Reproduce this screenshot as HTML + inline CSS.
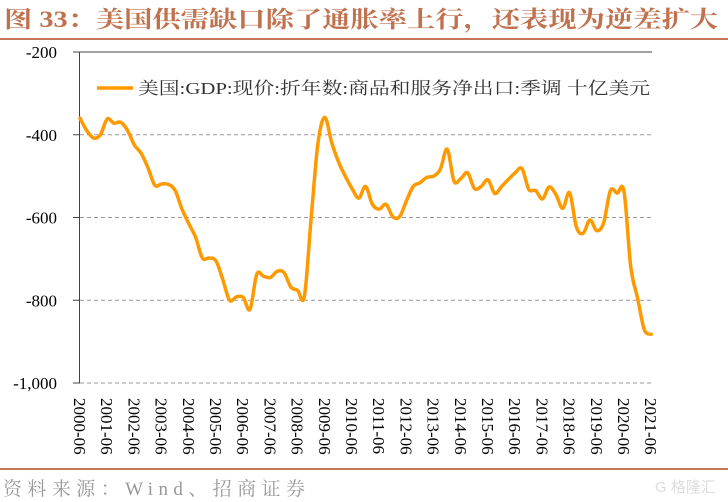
<!DOCTYPE html>
<html><head><meta charset="utf-8">
<style>
html,body{margin:0;padding:0;background:#fff;}
body{width:728px;height:502px;overflow:hidden;position:relative;}
svg{position:absolute;left:0;top:0;}
</style></head>
<body>
<svg id="chart" width="728" height="502" viewBox="0 0 728 502" xmlns="http://www.w3.org/2000/svg">
  <text x="4" y="27" font-family="'Liberation Serif','Noto Serif CJK SC',serif" font-size="23" font-weight="bold" fill="#C0714E" textLength="714" lengthAdjust="spacingAndGlyphs">图 33：美国供需缺口除了通胀率上行，还表现为逆差扩大</text>
  <rect x="0" y="38" width="728" height="2" fill="#C8765A"/>
  <g id="grid"></g>
  <g id="yaxis"></g>
  <g id="xaxis"></g>
  <path id="series" fill="none" stroke="#FF9900" stroke-width="3.5" stroke-linejoin="round" stroke-linecap="round"/>
  <g>
    <line x1="97" y1="88" x2="133" y2="88" stroke="#FF9900" stroke-width="3.5"/>
    <text x="138" y="94" font-family="'Liberation Serif','Noto Serif CJK SC',serif" font-size="17" fill="#333" textLength="512" lengthAdjust="spacingAndGlyphs">美国:GDP:现价:折年数:商品和服务净出口:季调 十亿美元</text>
  </g>
  <rect x="0" y="468" width="728" height="2" fill="#C8765A"/>
  <text x="3" y="495" font-family="'Liberation Serif','Noto Serif CJK SC',serif" font-size="19" fill="#999" textLength="302" lengthAdjust="spacing">资料来源：Wind、招商证券</text>
  <text x="655" y="492" font-family="'Liberation Sans','Noto Sans CJK SC',sans-serif" font-size="15" fill="#ddd">G 格隆汇</text>
</svg>
<script>
const yTicks = [-200, -400, -600, -800, -1000];
const yTickLabels = ["-200", "-400", "-600", "-800", "-1,000"];
const xLabels = ["2000-06","2001-06","2002-06","2003-06","2004-06","2005-06","2006-06","2007-06","2008-06","2009-06","2010-06","2011-06","2012-06","2013-06","2014-06","2015-06","2016-06","2017-06","2018-06","2019-06","2020-06","2021-06"];
const netExports = [-360,-390,-408,-400,-362,-372,-370,-390,-425,-445,-480,-522,-519,-520,-535,-580,-615,-648,-698,-698,-705,-750,-800,-792,-793,-822,-737,-742,-745,-730,-733,-768,-776,-790,-600,-420,-358,-418,-465,-500,-530,-553,-525,-568,-580,-568,-598,-598,-560,-525,-516,-503,-500,-483,-435,-512,-506,-492,-530,-525,-509,-542,-525,-508,-492,-482,-532,-535,-555,-526,-545,-578,-540,-623,-638,-606,-632,-613,-535,-541,-537,-720,-795,-872,-882];

const NS = "http://www.w3.org/2000/svg";
const X0 = 80, X1 = 651.2, Y0 = 52, Y1 = 383;
function yScale(v){ return Y0 + (v - (-200)) / (-1000 - (-200)) * (Y1 - Y0); }
function xScale(i){ return X0 + i * (X1 - X0) / (netExports.length - 1); }
function mk(tag, attrs, parent){ const e = document.createElementNS(NS, tag); for (const k in attrs) e.setAttribute(k, attrs[k]); parent.appendChild(e); return e; }

const grid = document.getElementById('grid');
const yaxis = document.getElementById('yaxis');
const xaxis = document.getElementById('xaxis');

yTicks.forEach((v, k) => {
  const y = yScale(v);
  if (k === 0) {
    const l = mk('line', {x1: 73, x2: 652, y1: y, y2: y, stroke: '#444', 'stroke-width': 1}, grid);
    
    
  } else {
    const l = mk('line', {x1: 80, x2: 652, y1: y, y2: y, stroke: '#999', 'stroke-width': 1, 'stroke-dasharray': '4,3'}, grid);
    
    
    const t = mk('line', {x1: 73, x2: 80, y1: y, y2: y, stroke: '#444', 'stroke-width': 1}, yaxis);
    
    
  }
  const tx = mk('text', {x: 57, y: y + 6, 'text-anchor': 'end', 'font-family': "'Liberation Serif',serif", 'font-size': 17, fill: '#000'}, yaxis);
  tx.textContent = yTickLabels[k];
  
  
});
const ax = mk('line', {x1: 79.5, x2: 79.5, y1: Y0, y2: Y1, stroke: '#444', 'stroke-width': 1}, yaxis);



xLabels.forEach((lab, k) => {
  const x = xScale(k * 4);
  const t = mk('text', {x: 0, y: 0, transform: `translate(${x - 6},398) rotate(90)`, 'font-family': "'Liberation Serif',serif", 'font-size': 17, fill: '#000'}, xaxis);
  t.textContent = lab;
  
  
});

const pts = netExports.map((v, i) => [xScale(i), yScale(v)]);
let d = `M${pts[0][0].toFixed(1)},${pts[0][1].toFixed(1)}`;
for (let i = 0; i < pts.length - 1; i++) {
  const p0 = pts[Math.max(0, i - 1)], p1 = pts[i], p2 = pts[i + 1], p3 = pts[Math.min(pts.length - 1, i + 2)];
  const c1x = p1[0] + (p2[0] - p0[0]) / 6, c1y = p1[1] + (p2[1] - p0[1]) / 6;
  const c2x = p2[0] - (p3[0] - p1[0]) / 6, c2y = p2[1] - (p3[1] - p1[1]) / 6;
  d += ` C${c1x.toFixed(1)},${c1y.toFixed(1)} ${c2x.toFixed(1)},${c2y.toFixed(1)} ${p2[0].toFixed(1)},${p2[1].toFixed(1)}`;
}
document.getElementById('series').setAttribute('d', d);
</script>
</body></html>
